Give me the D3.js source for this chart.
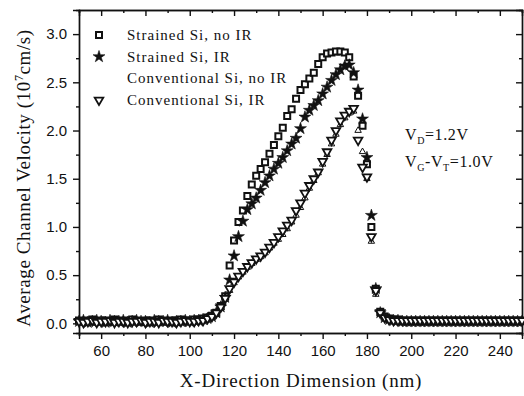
<!DOCTYPE html>
<head>
  <meta charset="utf-8">
  <script src="https://d3js.org/d3.v7.min.js"></script>
  <style>
    body { margin: 0; background: #fff; }
    .tick text { font-family: "Liberation Sans", Arial, sans-serif; font-size: 15px; fill: #111; }
    .domain, .tick line { stroke: #111; stroke-width: 1.4px; }
    .lbl { font-family: "Liberation Serif", "Times New Roman", serif; fill: #111; }
  </style>
</head>
<body>
  <svg width="524" height="396"></svg>
  <script>
    // x positions (nm), shared by all series
    var xPos = [50, 52, 54, 56, 58, 60, 62, 64, 66, 68, 70, 72, 74, 76, 78, 80, 82, 84, 86, 88,
      90, 92, 94, 96, 98, 100, 102, 104, 106, 108, 110, 112, 114, 116, 118, 120, 122, 124, 126, 128,
      130, 132, 134, 136, 138, 140, 142, 144, 146, 148, 150, 152, 154, 156, 158, 160, 162, 164, 166, 168,
      170, 172, 174, 176, 178, 180, 182, 184, 186, 188, 190, 192, 194, 196, 198, 200, 202, 204, 206, 208,
      210, 212, 214, 216, 218, 220, 222, 224, 226, 228, 230, 232, 234, 236, 238, 240, 242, 244, 246, 248, 250];

    var strainedNoIR = [0.03, 0.02, 0.03, 0.04, 0.02, 0.03, 0.03, 0.02, 0.04, 0.03, 0.02, 0.03, 0.04, 0.03, 0.02, 0.03, 0.03, 0.02, 0.04, 0.03,
      0.02, 0.03, 0.03, 0.04, 0.03, 0.03, 0.04, 0.04, 0.05, 0.06, 0.08, 0.11, 0.18, 0.28, 0.60, 0.86, 1.05, 1.17, 1.32, 1.44,
      1.53, 1.60, 1.67, 1.76, 1.85, 1.94, 2.03, 2.15, 2.22, 2.33, 2.42, 2.48, 2.54, 2.60, 2.69, 2.76, 2.80, 2.81, 2.82, 2.82,
      2.81, 2.76, 2.56, 2.36, 2.05, 1.65, 1.00, 0.36, 0.12, 0.07, 0.05, 0.04, 0.04, 0.03, 0.03, 0.03, 0.03, 0.03, 0.03, 0.03,
      0.03, 0.03, 0.03, 0.03, 0.03, 0.03, 0.03, 0.03, 0.03, 0.03, 0.03, 0.03, 0.03, 0.03, 0.03, 0.03, 0.03, 0.03, 0.03, 0.03, 0.03];

    var strainedIR = [0.02, 0.03, 0.01, 0.02, 0.03, 0.02, 0.01, 0.03, 0.02, 0.02, 0.03, 0.01, 0.02, 0.03, 0.02, 0.02, 0.01, 0.03, 0.02, 0.02,
      0.03, 0.01, 0.02, 0.02, 0.03, 0.02, 0.03, 0.03, 0.04, 0.05, 0.07, 0.11, 0.17, 0.27, 0.45, 0.70, 0.90, 1.06, 1.18, 1.24,
      1.30, 1.38, 1.46, 1.53, 1.60, 1.66, 1.72, 1.79, 1.86, 1.92, 2.02, 2.14, 2.21, 2.26, 2.31, 2.38, 2.45, 2.52, 2.58, 2.63,
      2.67, 2.68, 2.60, 2.42, 2.12, 1.72, 1.12, 0.36, 0.11, 0.06, 0.04, 0.03, 0.03, 0.02, 0.02, 0.02, 0.02, 0.02, 0.02, 0.02,
      0.02, 0.02, 0.02, 0.02, 0.02, 0.02, 0.02, 0.02, 0.02, 0.02, 0.02, 0.02, 0.02, 0.02, 0.02, 0.02, 0.02, 0.02, 0.02, 0.02, 0.02];

    var conventionalNoIR = [0.01, 0.02, 0.02, 0.01, 0.02, 0.03, 0.01, 0.02, 0.02, 0.01, 0.02, 0.02, 0.03, 0.01, 0.02, 0.02, 0.01, 0.02, 0.03, 0.02,
      0.01, 0.02, 0.02, 0.01, 0.02, 0.02, 0.02, 0.02, 0.03, 0.04, 0.06, 0.10, 0.16, 0.25, 0.34, 0.42, 0.48, 0.53, 0.58, 0.62,
      0.66, 0.69, 0.73, 0.78, 0.83, 0.87, 0.92, 0.98, 1.05, 1.12, 1.20, 1.30, 1.40, 1.48, 1.56, 1.65, 1.75, 1.86, 1.96, 2.06,
      2.13, 2.18, 2.20, 2.00, 1.78, 1.50, 0.85, 0.30, 0.10, 0.06, 0.04, 0.03, 0.02, 0.02, 0.02, 0.02, 0.02, 0.02, 0.02, 0.02,
      0.02, 0.02, 0.02, 0.02, 0.02, 0.02, 0.02, 0.02, 0.02, 0.02, 0.02, 0.02, 0.02, 0.02, 0.02, 0.02, 0.02, 0.02, 0.02, 0.02, 0.02];

    var conventionalIR = [0.02, 0.01, 0.02, 0.03, 0.01, 0.02, 0.02, 0.03, 0.01, 0.02, 0.02, 0.01, 0.02, 0.02, 0.03, 0.01, 0.02, 0.02, 0.01, 0.03,
      0.02, 0.02, 0.01, 0.02, 0.03, 0.02, 0.02, 0.03, 0.03, 0.05, 0.07, 0.11, 0.17, 0.26, 0.36, 0.43, 0.49, 0.54, 0.59, 0.63,
      0.67, 0.70, 0.74, 0.79, 0.84, 0.90, 0.96, 1.02, 1.07, 1.17, 1.25, 1.35, 1.43, 1.50, 1.57, 1.68, 1.78, 1.90, 2.00, 2.10,
      2.16, 2.20, 2.23, 1.90, 1.62, 1.52, 0.90, 0.34, 0.11, 0.06, 0.04, 0.03, 0.03, 0.03, 0.03, 0.03, 0.03, 0.03, 0.03, 0.03,
      0.03, 0.03, 0.03, 0.03, 0.03, 0.03, 0.03, 0.03, 0.03, 0.03, 0.03, 0.03, 0.03, 0.03, 0.03, 0.03, 0.03, 0.03, 0.03, 0.03, 0.03];

    var seriesNames = ["Strained Si, no IR", "Strained Si, IR", "Conventional Si, no IR", "Conventional Si, IR"];
    var xTicks = [60, 80, 100, 120, 140, 160, 180, 200, 220, 240];
    var xMinor = [50, 70, 90, 110, 130, 150, 170, 190, 210, 230, 250];
    var yTicks = [0.0, 0.5, 1.0, 1.5, 2.0, 2.5, 3.0];
    var yMinor = [0.25, 0.75, 1.25, 1.75, 2.25, 2.75];

    var svg = d3.select("svg");
    var margin = { top: 10, right: 2, bottom: 63, left: 79 };
    var width = +svg.attr("width") - margin.left - margin.right;
    var height = +svg.attr("height") - margin.top - margin.bottom;

    var x = d3.scaleLinear().domain([50, 250]).range([0, width]);
    var y = d3.scaleLinear().domain([-0.1, 3.25]).range([height, 0]);

    var g = svg.append("g")
      .attr("transform", "translate(" + margin.left + "," + margin.top + ")");

    // minor ticks
    g.append("g").attr("transform", "translate(0," + height + ")")
      .call(d3.axisBottom(x).tickValues(xMinor).tickSize(3).tickFormat(""));
    g.append("g").call(d3.axisTop(x).tickValues(xMinor).tickSize(-3).tickFormat(""));
    g.append("g").call(d3.axisLeft(y).tickValues(yMinor).tickSize(3).tickFormat(""));
    g.append("g").attr("transform", "translate(" + width + ",0)")
      .call(d3.axisRight(y).tickValues(yMinor).tickSize(-3).tickFormat(""));

    // major ticks
    g.append("g").attr("transform", "translate(0," + height + ")")
      .call(d3.axisBottom(x).tickValues(xTicks).tickSize(6).tickPadding(6).tickFormat(d3.format("d")));
    g.append("g")
      .call(d3.axisLeft(y).tickValues(yTicks).tickSize(6).tickPadding(6).tickFormat(d3.format(".1f")));
    g.append("g").call(d3.axisTop(x).tickValues(xTicks).tickSize(-6).tickFormat(""));
    g.append("g").attr("transform", "translate(" + width + ",0)")
      .call(d3.axisRight(y).tickValues(yTicks).tickSize(-6).tickFormat(""));

    var series = [
      { name: seriesNames[0], ys: strainedNoIR, type: d3.symbolSquare, size: 36, fill: "#fff", sw: 2, rot: 0 },
      { name: seriesNames[1], ys: strainedIR, type: d3.symbolStar, size: 44, fill: "#111", sw: 0.6, rot: 0 },
      { name: seriesNames[2], ys: conventionalNoIR, type: d3.symbolTriangle, size: 18, fill: "#fff", sw: 1, rot: 0 },
      { name: seriesNames[3], ys: conventionalIR, type: d3.symbolTriangle, size: 32, fill: "#fff", sw: 1.8, rot: 180 }
    ];

    series.forEach(function (s) {
      var sym = d3.symbol().type(s.type).size(s.size);
      g.append("g").selectAll("path")
        .data(xPos.map(function (d, i) { return [d, s.ys[i]]; }))
        .enter().append("path")
        .attr("d", sym)
        .attr("transform", function (d) {
          return "translate(" + x(d[0]) + "," + y(d[1]) + ") rotate(" + s.rot + ")";
        })
        .attr("fill", s.fill)
        .attr("stroke", "#111")
        .attr("stroke-width", s.sw);
    });

    // legend
    var legend = g.append("g").attr("transform", "translate(20,25)");
    series.forEach(function (s, i) {
      var row = legend.append("g").attr("transform", "translate(0," + (i * 21.7) + ")");
      if (i !== 2) {
        row.append("path")
          .attr("d", d3.symbol().type(s.type).size(s.size))
          .attr("transform", "rotate(" + s.rot + ")")
          .attr("fill", s.fill).attr("stroke", "#111").attr("stroke-width", s.sw);
      }
      row.append("text").attr("class", "lbl")
        .attr("x", 28).attr("y", 5)
        .style("font-size", "15px")
        .style("letter-spacing", "1px")
        .text(s.name);
    });

    // bias annotation
    var ann = g.append("text").attr("class", "lbl").attr("x", 326).attr("y", 130)
      .style("font-size", "16px").style("letter-spacing", "0.6px");
    ann.append("tspan").text("V");
    ann.append("tspan").attr("dy", 4).style("font-size", "10px").text("D");
    ann.append("tspan").attr("dy", -4).text("=1.2V");
    var ann2 = g.append("text").attr("class", "lbl").attr("x", 326).attr("y", 157)
      .style("font-size", "16px").style("letter-spacing", "0.6px");
    ann2.append("tspan").text("V");
    ann2.append("tspan").attr("dy", 4).style("font-size", "10px").text("G");
    ann2.append("tspan").attr("dy", -4).text("-V");
    ann2.append("tspan").attr("dy", 4).style("font-size", "10px").text("T");
    ann2.append("tspan").attr("dy", -4).text("=1.0V");

    // axis titles
    svg.append("text").attr("class", "lbl")
      .attr("x", 301).attr("y", 387)
      .attr("text-anchor", "middle")
      .style("font-size", "19px")
      .style("letter-spacing", "0.8px")
      .text("X-Direction Dimension (nm)");

    var yt = svg.append("text").attr("class", "lbl")
      .attr("transform", "translate(30,178) rotate(-90)")
      .attr("text-anchor", "middle")
      .style("font-size", "19px")
      .style("letter-spacing", "0.6px");
    yt.append("tspan").text("Average Channel Velocity (10");
    yt.append("tspan").attr("dy", -7).style("font-size", "12px").text("7");
    yt.append("tspan").attr("dy", 7).text("cm/s)");
  </script>
</body>
